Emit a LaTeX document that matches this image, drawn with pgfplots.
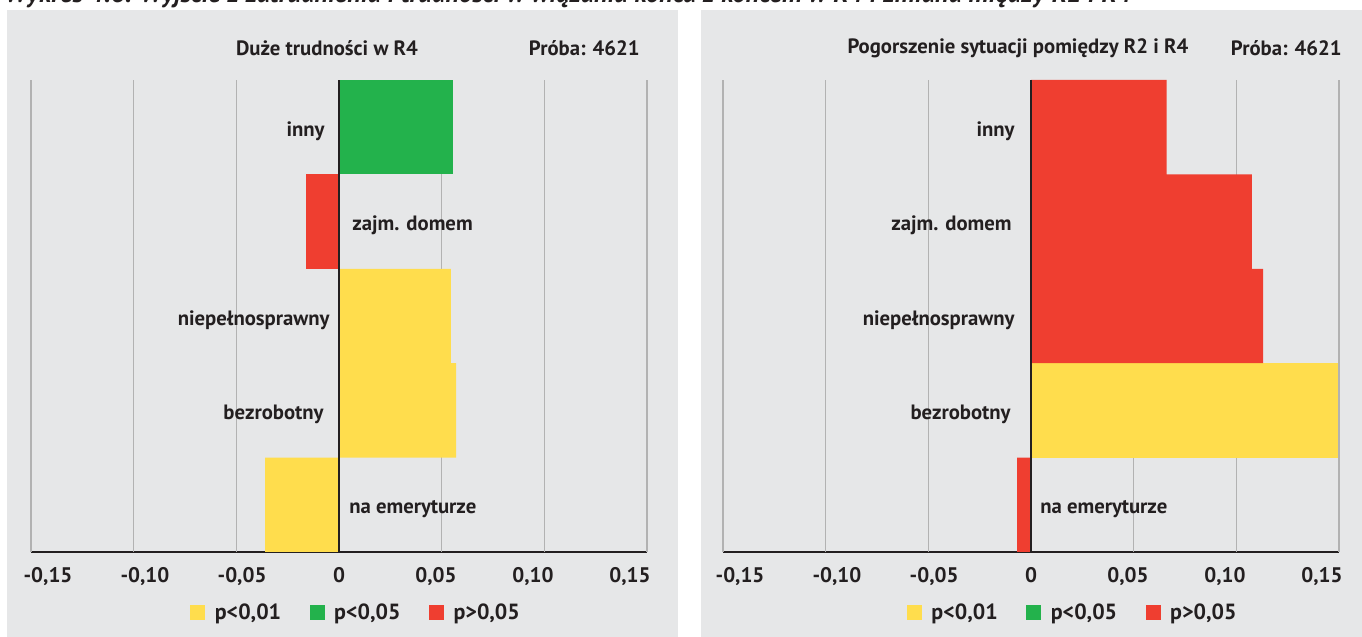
\documentclass[border=0pt]{standalone}
\usepackage{fontspec}
\setmainfont{PT Sans}
\usepackage{pgfplots}
\pgfplotsset{compat=1.18}
\definecolor{bg}{RGB}{230,231,232}
\definecolor{yel}{RGB}{255,221,77}
\definecolor{grn}{RGB}{35,178,76}
\definecolor{rd}{RGB}{239,62,48}
\definecolor{ink}{RGB}{35,31,32}
\definecolor{gridc}{RGB}{178,178,178}

\tikzset{lab/.style={font=\bfseries\fontsize{11.8}{14}\selectfont, text=ink, inner sep=0pt, yshift=-0.08cm}}

\pgfplotsset{
  panel/.style={
    xbar, bar shift=0pt, bar width=1,
    scale only axis, width=12.32cm, height=9.44cm,
    xmin=-0.15, xmax=0.15, ymin=-0.5, ymax=4.5,
    axis x line*=bottom, axis y line=none,
    x axis line style={-, ink, line width=1.2pt},
    ytick=\empty,
    xtick={-0.1417,-0.0945,-0.0472,0,0.0472,0.0945,0.1417},
    xticklabels={{-0,15},{-0,10},{-0,05},{0},{0,05},{0,10},{0,15}},
    major tick length=0pt,
    xticklabel style={font=\bfseries\fontsize{12}{14}\selectfont, text=ink, yshift=-0.18cm},
    extra x ticks={-0.15,-0.1,-0.05,0.05,0.1,0.15},
    extra x tick labels={},
    extra x tick style={grid=major},
    major grid style={gridc, line width=0.8pt},
    clip=false,
    legend columns=3,
    legend style={draw=none, fill=none, font=\bfseries\fontsize{12.5}{14}\selectfont,
      text=ink, anchor=center,
      /tikz/every odd column/.append style={column sep=0.12cm},
      /tikz/every even column/.append style={column sep=0.5cm}},
    legend image code/.code={\fill[##1, draw=none] (0cm,-0.15cm) rectangle (0.3cm,0.15cm);},
  },
}

\begin{document}
\begin{tikzpicture}
\path[use as bounding box] (0,0) rectangle (27.24cm,12.74cm);
\fill[bg] (0.14cm,0) rectangle (13.56cm,12.54cm);
\fill[bg] (14.02cm,0) rectangle (27.24cm,12.54cm);

\begin{scope}
\clip (0,12.54cm) rectangle (27.24cm,12.74cm);
\node[anchor=base west, inner sep=0pt, text=ink,
  font=\bfseries\itshape\fontsize{15}{17}\selectfont] at (0.1cm,12.69cm)
  {Wykres 4.6. Wyjście z zatrudnienia i trudności w wiązaniu końca z końcem w R4 i zmiana między R2 i R4};
\end{scope}

\node[lab, yshift=0.08cm] at (6.54cm,11.78cm) {Duże trudności w R4};
\node[lab, yshift=0.08cm, anchor=east] at (12.80cm,11.78cm) {Próba: 4621};
\node[lab, yshift=0.08cm] at (20.36cm,11.78cm) {Pogorszenie sytuacji pomiędzy R2 i R4};
\node[lab, yshift=0.08cm, anchor=east] at (26.84cm,11.78cm) {Próba: 4621};

% left: Duże trudności w R4
\begin{axis}[panel, at={(0.62cm,1.70cm)},
  legend style={at={(0.529,-0.129)}}]
\addplot[fill=yel, draw=none, forget plot] coordinates {(0.0545,2) (0.057,1) (-0.036,0)};
\addplot[fill=grn, draw=none, forget plot] coordinates {(0.0555,4)};
\addplot[fill=rd, draw=none, forget plot] coordinates {(-0.016,3)};
\draw[ink, line width=1.3pt] (axis cs:0,-0.5) -- (axis cs:0,4.5);
\node[lab, anchor=east, xshift=-0.28cm] at (axis cs:0,4) {inny};
\node[lab, anchor=west, xshift=0.26cm] at (axis cs:0,3) {zajm. domem};
\node[lab, anchor=east, xshift=-0.18cm] at (axis cs:0,2) {niepełnosprawny};
\node[lab, anchor=east, xshift=-0.30cm] at (axis cs:0,1) {bezrobotny};
\node[lab, anchor=west, xshift=0.20cm] at (axis cs:0,0) {na emeryturze};
\addlegendimage{fill=yel}
\addlegendentry{p<0,01}
\addlegendimage{fill=grn}
\addlegendentry{p<0,05}
\addlegendimage{fill=rd}
\addlegendentry{p>0,05}
\end{axis}

% right: Pogorszenie sytuacji pomiędzy R2 i R4
\begin{axis}[panel, at={(14.46cm,1.70cm)},
  legend style={at={(0.569,-0.129)}}]
\addplot[fill=yel, draw=none, forget plot] coordinates {(0.1495,1)};
\addplot[fill=rd, draw=none, forget plot] coordinates {(0.066,4) (0.1076,3) (0.113,2) (-0.0068,0)};
\draw[ink, line width=1.3pt] (axis cs:0,-0.5) -- (axis cs:0,4.5);
\node[lab, anchor=east, xshift=-0.32cm] at (axis cs:0,4) {inny};
\node[lab, anchor=east, xshift=-0.38cm] at (axis cs:0,3) {zajm. domem};
\node[lab, anchor=east, xshift=-0.32cm] at (axis cs:0,2) {niepełnosprawny};
\node[lab, anchor=east, xshift=-0.40cm] at (axis cs:0,1) {bezrobotny};
\node[lab, anchor=west, xshift=0.18cm] at (axis cs:0,0) {na emeryturze};
\addlegendimage{fill=yel}
\addlegendentry{p<0,01}
\addlegendimage{fill=grn}
\addlegendentry{p<0,05}
\addlegendimage{fill=rd}
\addlegendentry{p>0,05}
\end{axis}
\end{tikzpicture}
\end{document}
